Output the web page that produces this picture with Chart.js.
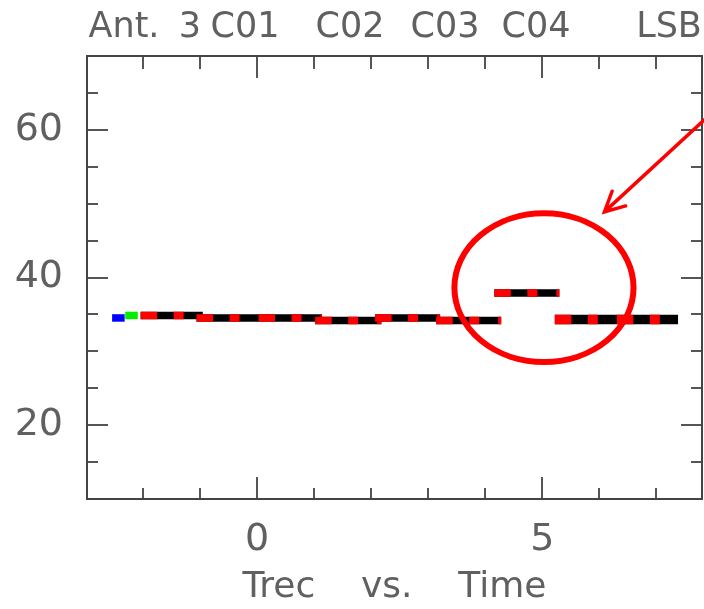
<!DOCTYPE html>
<html><head><meta charset="utf-8">
<script src="https://cdn.jsdelivr.net/npm/chart.js@4/dist/chart.umd.min.js"></script>
<style>html,body{margin:0;padding:0;background:#fff}canvas{display:block}</style>
</head><body>
<canvas id="c" width="704" height="609"></canvas>
<script>
// ---- data ----
const scanStart = [-2.54, -2.31, -2.04, -1.06, 1.02, 2.07, 3.14, 4.16, 5.22];
const scanEnd   = [-2.32, -2.09, -0.95,  1.14, 2.18, 3.21, 4.28, 5.30, 7.38];
const trecLSB   = [34.52, 34.86, 34.86, 34.52, 34.18, 34.52, 34.18, 37.90, 34.32];
const scanKind  = ['blue', 'green', 'mix', 'mix', 'mix', 'mix', 'mix', 'mix', 'mix'];
const yLabelTicks = [20, 40, 60];
const yMajorTicks = [20, 40, 60];
const xLabelTicks = [0, 5];
const xMajorTicks = [0, 5];
const titleWords = ['Ant.', '3', 'C01', 'C02', 'C03', 'C04', 'LSB'];
const xAxisTitle = 'Trec    vs.    Time';
// annotation (data coordinates)
const circleCenter = [5.03, 38.62];
const circleRadius = [1.57, 10.08];
const arrowTip  = [6.09, 48.89];
const arrowTail = [7.97, 62.26];

// ---- styling / layout ----
const FONT = '"DejaVu Sans", "Liberation Sans", sans-serif';
const TXT = '#606060';
const titleCenters = [37, 103, 158, 263, 358, 449, 582]; // px offsets from chart left

const datasets = [];
scanStart.forEach((s, i) => {
  const pts = [{x: s, y: trecLSB[i]}, {x: scanEnd[i], y: trecLSB[i]}];
  const ord = 1000 - 2 * i;
  const w = (i === scanStart.length - 1) ? 9.5 : 7.5;
  const common = {data: pts, pointRadius: 0, borderCapStyle: 'butt', tension: 0, fill: false, borderWidth: w};
  if (scanKind[i] === 'blue') {
    datasets.push({...common, borderColor: '#0000ff', order: ord});
  } else if (scanKind[i] === 'green') {
    datasets.push({...common, borderColor: '#00ee00', order: ord});
  } else {
    datasets.push({...common, borderColor: '#000000', order: ord});
    datasets.push({...common, borderColor: '#ff0000', borderDash: [16.5, 16.5, 10, 19], order: ord - 1});
  }
});

const framePlugin = {
  id: 'frame',
  afterDraw(chart) {
    const {ctx, chartArea: a, scales: {x, y}} = chart;
    ctx.save();
    // ticks
    ctx.strokeStyle = '#555';
    ctx.lineWidth = 2;
    ctx.beginPath();
    for (let v = Math.ceil(x.min); v <= Math.floor(x.max); v++) {
      const px = Math.round(x.getPixelForValue(v));
      const L = xMajorTicks.includes(v) ? 22 : 11;
      ctx.moveTo(px, a.bottom); ctx.lineTo(px, a.bottom - L);
      ctx.moveTo(px, a.top); ctx.lineTo(px, a.top + (xMajorTicks.includes(v) ? 22 : 13));
    }
    for (let v = Math.ceil(y.min / 5) * 5; v <= y.max; v += 5) {
      if (v <= y.min || v >= y.max) continue;
      const py = Math.round(y.getPixelForValue(v));
      const L = yMajorTicks.includes(v) ? 21 : 11;
      ctx.moveTo(a.left, py); ctx.lineTo(a.left + L, py);
      ctx.moveTo(a.right, py); ctx.lineTo(a.right - L, py);
    }
    ctx.stroke();
    // frame
    ctx.strokeStyle = '#444';
    ctx.lineWidth = 2;
    ctx.strokeRect(a.left, a.top, a.right - a.left, a.bottom - a.top);
    // title
    ctx.fillStyle = TXT;
    ctx.font = '35px ' + FONT;
    ctx.textAlign = 'center';
    ctx.textBaseline = 'alphabetic';
    titleWords.forEach((w, i) => ctx.fillText(w, a.left + titleCenters[i], 37));
    // annotation circle
    ctx.strokeStyle = '#ff0000';
    ctx.lineWidth = 6;
    const cx = x.getPixelForValue(circleCenter[0]);
    const cy = y.getPixelForValue(circleCenter[1]);
    const rx = Math.abs(x.getPixelForValue(circleCenter[0] + circleRadius[0]) - cx);
    const ry = Math.abs(y.getPixelForValue(circleCenter[1] + circleRadius[1]) - cy);
    ctx.beginPath();
    ctx.ellipse(cx, cy, rx, ry, 0, 0, Math.PI * 2);
    ctx.stroke();
    // arrow
    const tx = x.getPixelForValue(arrowTip[0]), ty = y.getPixelForValue(arrowTip[1]);
    const sx = x.getPixelForValue(arrowTail[0]), sy = y.getPixelForValue(arrowTail[1]);
    const ang = Math.atan2(sy - ty, sx - tx);
    ctx.lineWidth = 3.5;
    ctx.lineCap = 'round';
    ctx.beginPath();
    ctx.moveTo(sx, sy); ctx.lineTo(tx, ty);
    const hl = 22, spread = 27 * Math.PI / 180;
    ctx.moveTo(tx + hl * Math.cos(ang - spread), ty + hl * Math.sin(ang - spread));
    ctx.lineTo(tx, ty);
    ctx.lineTo(tx + hl * Math.cos(ang + spread), ty + hl * Math.sin(ang + spread));
    ctx.stroke();
    ctx.restore();
  }
};

new Chart(document.getElementById('c'), {
  type: 'line',
  data: {datasets},
  options: {
    responsive: false,
    animation: false,
    events: [],
    layout: {padding: {top: 56, right: 2, left: 0, bottom: 0}},
    plugins: {legend: {display: false}, tooltip: {enabled: false}, title: {display: false}},
    scales: {
      x: {
        type: 'linear', min: -2.98, max: 7.8,
        grid: {display: false, drawTicks: false},
        border: {display: false},
        ticks: {
          stepSize: 1, autoSkip: false, maxRotation: 0, padding: 18,
          color: TXT, font: {family: FONT, size: 38},
          callback: v => xLabelTicks.includes(v) ? String(v) : ''
        },
        title: {display: true, text: xAxisTitle, color: TXT, font: {family: FONT, size: 36}, padding: {top: 0, bottom: 0}},
        afterFit: s => { s.height = 110; s.paddingLeft = 0; s.paddingRight = 0; }
      },
      y: {
        type: 'linear', min: 10, max: 70,
        grid: {display: false, drawTicks: false},
        border: {display: false},
        ticks: {
          stepSize: 5, autoSkip: false, padding: 24,
          color: TXT, font: {family: FONT, size: 38},
          callback: v => yLabelTicks.includes(v) ? String(v) : ''
        },
        afterFit: s => { s.width = 87; s.paddingTop = 0; s.paddingBottom = 0; }
      }
    }
  },
  plugins: [framePlugin]
});
</script>
</body></html>
